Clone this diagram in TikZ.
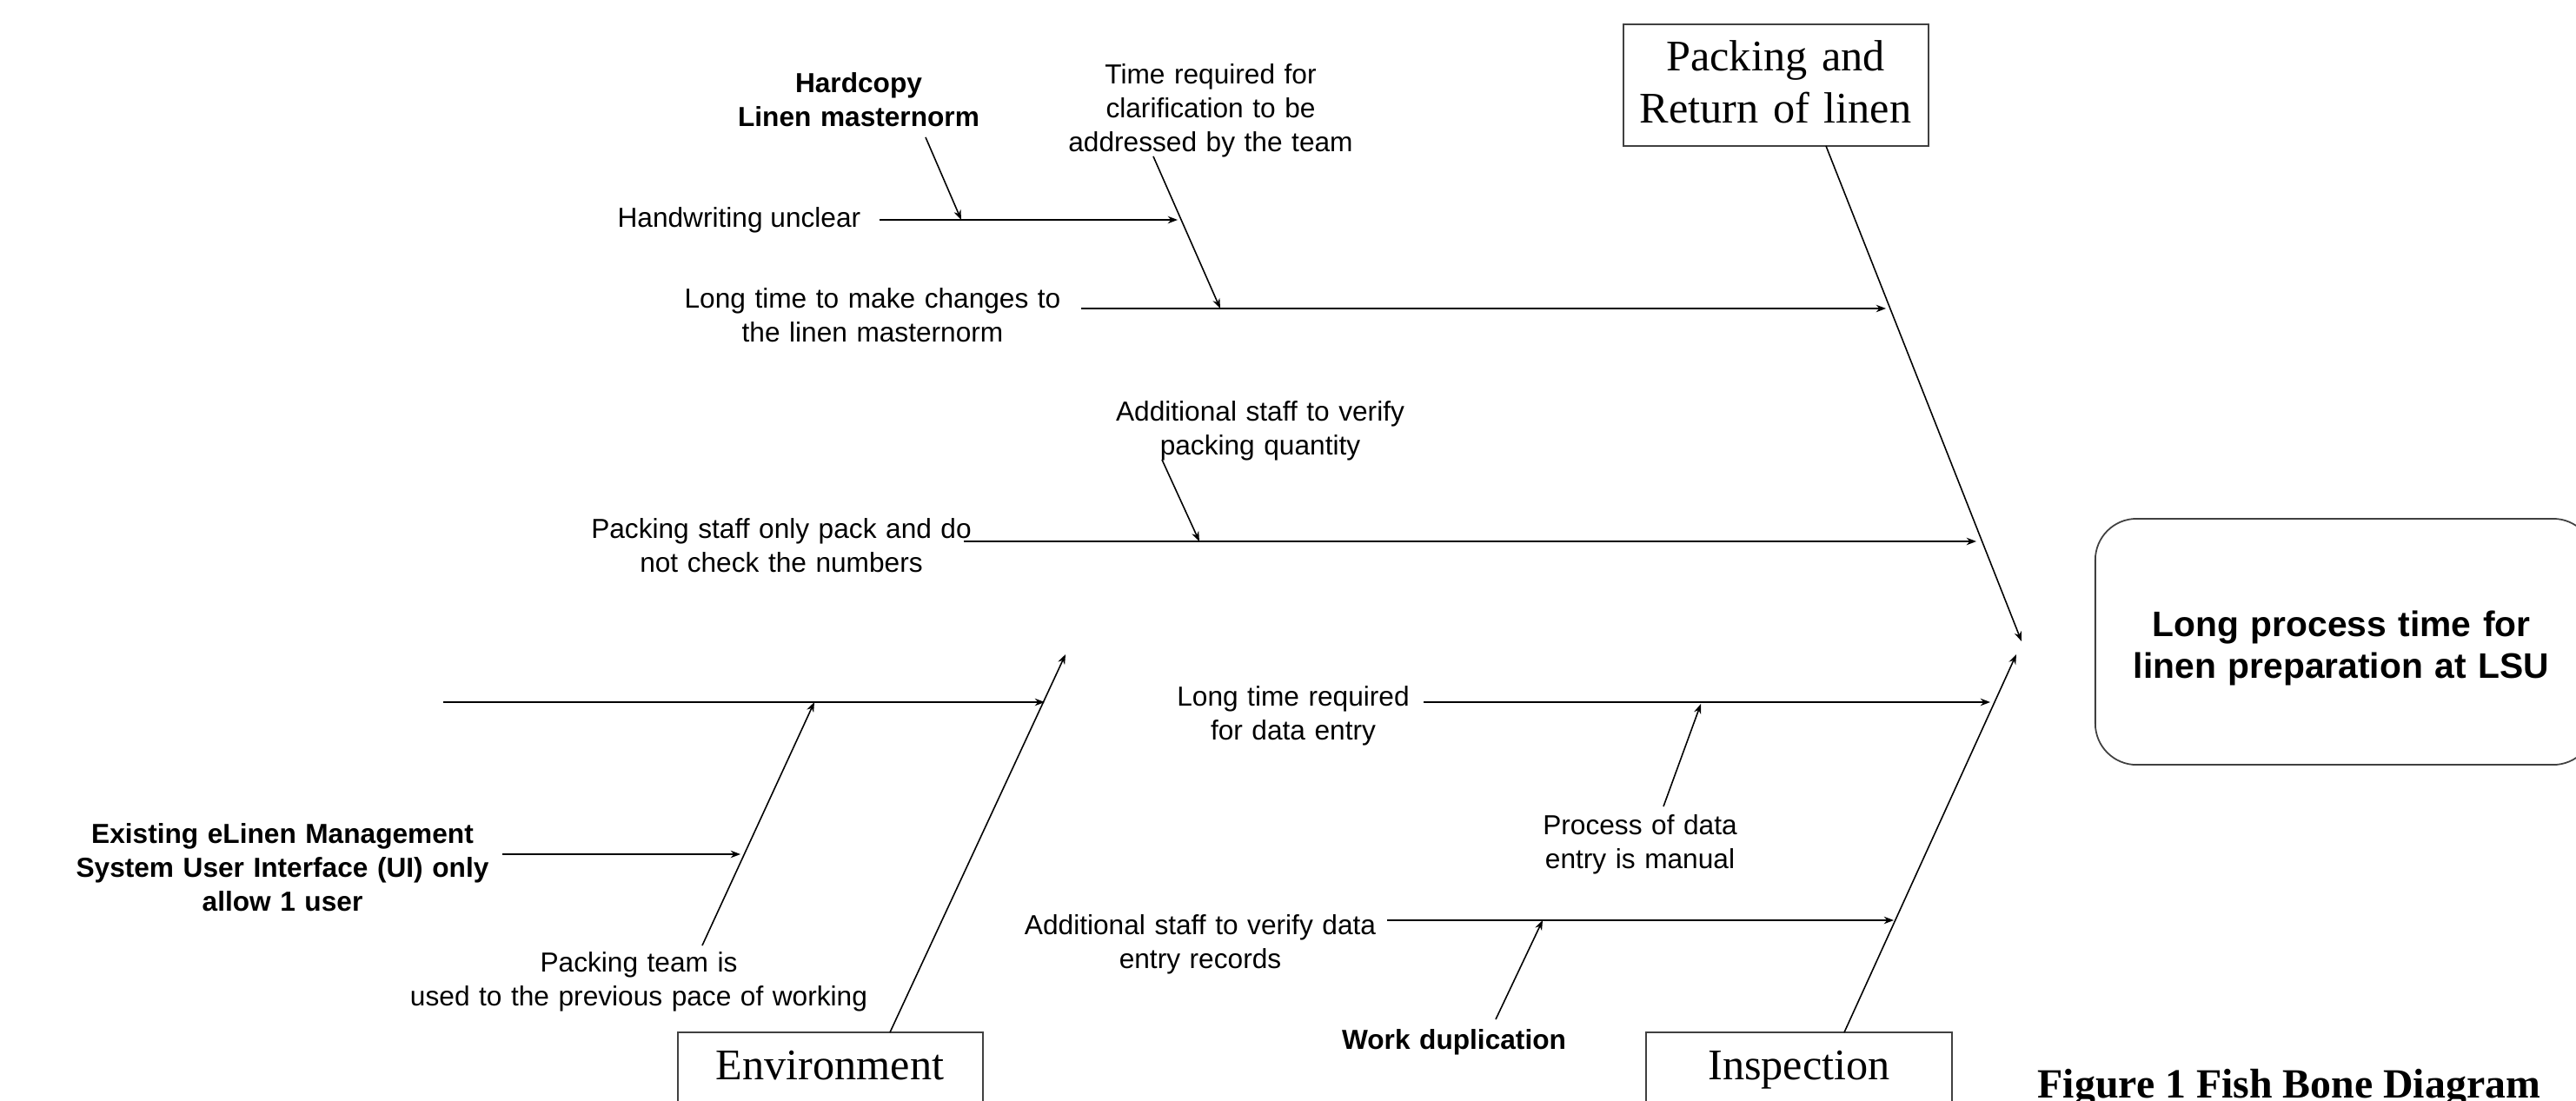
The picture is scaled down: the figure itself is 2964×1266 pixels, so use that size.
\documentclass[tikz,border=0pt]{standalone}
\usepackage{fontspec}
\setmainfont{Liberation Sans}
\newfontfamily\tnr{Liberation Serif}
\usetikzlibrary{arrows.meta}
\begin{document}
\begin{tikzpicture}[x=0.01cm,y=-0.01cm,
  txt/.style={text width=7cm, align=center, anchor=base, inner sep=0pt, yshift=-0.5pt,
    font=\fontsize{9}{11}\selectfont},
  btxt/.style={txt, font=\bfseries\fontsize{9}{11}\selectfont},
  linetxt/.style={anchor=base east, inner sep=0pt, yshift=-0.5pt, font=\fontsize{9}{11}\selectfont},
  arr/.style={draw, line width=0.45pt, -{Stealth[length=3.2pt,width=2.4pt]}},
  catbox/.style={draw=black!75, line width=0.5pt, inner sep=0pt},
  cattext/.style={text width=5cm, align=center, anchor=base, inner sep=0pt,
    font=\tnr\fontsize{14.3}{17.3}\selectfont}]
\useasboundingbox (0,0) rectangle (2964,1266);

% category boxes
\node[catbox, minimum width=3.51cm, minimum height=1.40cm] (pack) at (2043.5,98) {};
\node[cattext] (packtext) at (2043,81) {Packing and\\Return of linen};
\node[catbox, minimum width=3.51cm, minimum height=1.12cm] (env) at (955.5,1244) {};
\node[cattext] (envtext) at (955,1242) {Environment};
\node[catbox, minimum width=3.52cm, minimum height=1.12cm] (insp) at (2070,1244) {};
\node[cattext] (insptext) at (2070,1242) {Inspection};

% effect box
\node[draw=black!75, line width=0.5pt, rounded corners=13.5pt,
  minimum width=5.74cm, minimum height=2.83cm, inner sep=0pt] (effect) at (2698,738.5) {};
\node[txt, text width=6cm, font=\bfseries\fontsize{11.6}{13.7}\selectfont] (effecttext)
  at (2694,731) {Long process time for\\linen preparation at LSU};

% caption
\node[anchor=base west, inner sep=0pt, font=\tnr\bfseries\fontsize{13.6}{16}\selectfont]
  (caption) at (2344,1263) {Figure 1 Fish Bone Diagram};

% spines
\coordinate (packS) at (2101,168);
\coordinate (packT) at (2326,738);
\coordinate (inspS) at (2122,1188);
\coordinate (inspT) at (2320,753);
\coordinate (envS) at (1024,1188);
\coordinate (envT) at (1226,753);
\draw[arr] (packS) -- (packT);
\draw[arr] (inspS) -- (inspT);
\draw[arr] (envS) -- (envT);

% cause texts
\node[btxt] (hardcopy) at (988,105) {Hardcopy\\Linen masternorm};
\node[txt] (timereq) at (1393,95) {Time required for\\clarification to be\\addressed by the team};
\node[linetxt] (handwriting) at (991,260) {Handwriting unclear};
\node[txt] (longchange) at (1004,353) {Long time to make changes to\\the linen masternorm};
\node[txt] (addpack) at (1450,483) {Additional staff to verify\\packing quantity};
\node[txt] (packstaff) at (899,618) {Packing staff only pack and do\\not check the numbers};
\node[btxt] (existing) at (325,969) {Existing eLinen Management\\System User Interface (UI) only\\allow 1 user};
\node[txt] (packteam) at (735,1117) {Packing team is\\used to the previous pace of working};
\node[txt] (longreq) at (1488,811) {Long time required\\for data entry};
\node[txt] (process) at (1887,959) {Process of data\\entry is manual};
\node[txt] (addverify) at (1381,1074) {Additional staff to verify data\\entry records};
\node[btxt] (workdup) at (1673,1206) {Work duplication};

% connector end points
\coordinate (hwS) at (1012,253);   \coordinate (hwT) at (1355,253);
\coordinate (hcS) at (1065,158);   \coordinate (hcT) at (1106,253);
\coordinate (lcS) at (1244,355);   \coordinate (lcT) at (2170,355);
\coordinate (trS) at (1327,180);   \coordinate (trT) at (1404,355);
\coordinate (psS) at (1109,623);   \coordinate (psT) at (2274,623);
\coordinate (apS) at (1337,529);   \coordinate (apT) at (1380,623);
\coordinate (lfS) at (510,808);    \coordinate (lfT) at (1202,808);
\coordinate (ptS) at (808,1088);   \coordinate (ptT) at (937,808);
\coordinate (exS) at (578,983);    \coordinate (exT) at (852,983);
\coordinate (lrS) at (1638,808);   \coordinate (lrT) at (2290,808);
\coordinate (prS) at (1914,928);   \coordinate (prT) at (1957,810);
\coordinate (avS) at (1596,1059);  \coordinate (avT) at (2179,1059);
\coordinate (wdS) at (1721,1173);  \coordinate (wdT) at (1775,1059);

\draw[arr] (hwS) -- (hwT);
\draw[arr] (hcS) -- (hcT);
\draw[arr] (lcS) -- (lcT);
\draw[arr] (trS) -- (trT);
\draw[arr] (psS) -- (psT);
\draw[arr] (apS) -- (apT);
\draw[arr] (lfS) -- (lfT);
\draw[arr] (ptS) -- (ptT);
\draw[arr] (exS) -- (exT);
\draw[arr] (lrS) -- (lrT);
\draw[arr] (prS) -- (prT);
\draw[arr] (avS) -- (avT);
\draw[arr] (wdS) -- (wdT);
\end{tikzpicture}
\end{document}
